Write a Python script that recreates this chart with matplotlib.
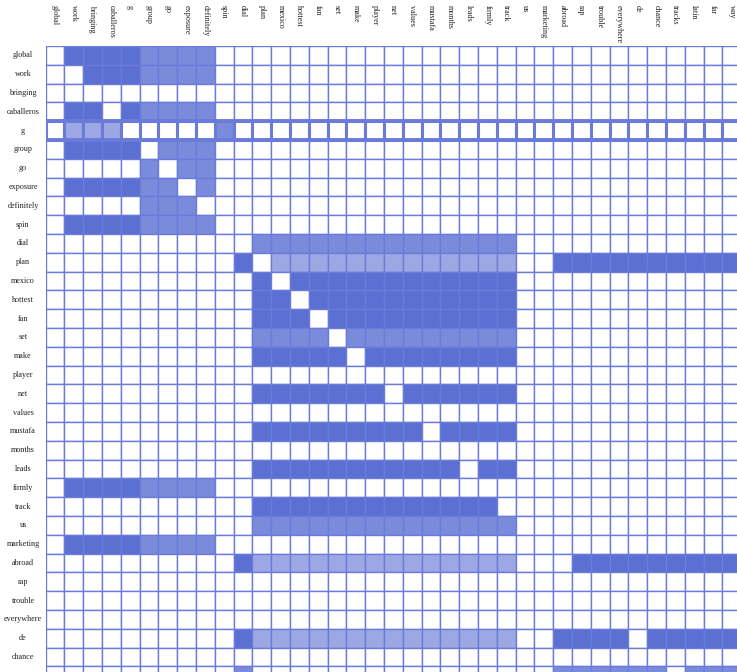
import matplotlib
matplotlib.use("Agg")
import matplotlib.pyplot as plt
from matplotlib.patches import Rectangle

# Words along both axes (matrix is cropped by the figure on the right and bottom)
col_words = ["global", "work", "bringing", "caballeros", "g", "group", "go", "exposure",
             "definitely", "spin", "dial", "plan", "mexico", "hottest", "fan", "set", "make",
             "player", "net", "values", "mustafa", "months", "leads", "firmly", "track", "us",
             "marketing", "abroad", "rap", "trouble", "everywhere", "de", "chance", "tracks",
             "latin", "far", "way"]
row_words = col_words[:34]

# cell level per row: 0 empty, 1 light, 2 medium, 3 dark
levels = [
    "0" + "3333" + "2222" + "0" * 28,                               # global
    "00" + "333" + "2222" + "0" * 28,                               # work
    "0" * 37,                                                        # bringing
    "0" + "33" + "0" + "3" + "2222" + "0" * 28,                     # caballeros
    "0" + "111" + "0" + "0000" + "2" + "0" * 27,                    # g
    "0" + "3333" + "0" + "222" + "0" * 28,                          # group
    "00000" + "2" + "0" + "22" + "0" * 28,                          # go
    "0" + "3333" + "22" + "0" + "2" + "0" * 28,                     # exposure
    "00000" + "222" + "0" + "0" * 28,                               # definitely
    "0" + "3333" + "2222" + "0" * 28,                               # spin
    "0" * 11 + "2" * 14 + "0" * 12,                                  # dial
    "0" * 10 + "3" + "0" + "1" * 13 + "00" + "3" * 10,              # plan
    "0" * 11 + "3" + "0" + "3" * 12 + "0" * 12,                     # mexico
    "0" * 11 + "33" + "0" + "3" * 11 + "0" * 12,                    # hottest
    "0" * 11 + "333" + "0" + "3" * 10 + "0" * 12,                   # fan
    "0" * 11 + "2222" + "0" + "2" * 9 + "0" * 12,                   # set
    "0" * 11 + "3" * 5 + "0" + "3" * 8 + "0" * 12,                  # make
    "0" * 37,                                                        # player
    "0" * 11 + "3" * 7 + "0" + "3" * 6 + "0" * 12,                  # net
    "0" * 37,                                                        # values
    "0" * 11 + "3" * 9 + "0" + "3" * 4 + "0" * 12,                  # mustafa
    "0" * 37,                                                        # months
    "0" * 11 + "3" * 11 + "0" + "33" + "0" * 12,                    # leads
    "0" + "3333" + "2222" + "0" * 28,                               # firmly
    "0" * 11 + "3" * 13 + "0" * 13,                                  # track
    "0" * 11 + "2" * 14 + "0" * 12,                                  # us
    "0" + "3333" + "2222" + "0" * 28,                               # marketing
    "0" * 10 + "3" + "1" * 14 + "000" + "3" * 9,                    # abroad
    "0" * 37,                                                        # rap
    "0" * 37,                                                        # trouble
    "0" * 37,                                                        # everywhere
    "0" * 10 + "3" + "1" * 14 + "00" + "3333" + "0" + "3" * 5,      # de
    "0" * 37,                                                        # chance
    "0" * 10 + "2" + "0" * 16 + "2" * 6 + "0" + "222",              # tracks
]
highlight_row = "g"

level_colors = {"0": "#ffffff", "1": "#9ca8e4", "2": "#7b8bdc", "3": "#5c70d4"}
edge = "#6a7bd9"

W, H = 737, 672
cell = 18.8
x0, y0 = 45.5, 46  # top-left of grid in pixels

fig = plt.figure(figsize=(W / 100, H / 100), dpi=100)
ax = fig.add_axes([x0 / W, 0, 1 - x0 / W, (H - y0) / H])
ax.set_xlim(0, (W - x0) / cell)
ax.set_ylim((H - y0) / cell, 0)
ax.axis("off")

font = dict(family=["Liberation Serif", "DejaVu Serif"], fontsize=5.9, color="#222222")

for i, row in enumerate(levels):
    hl = row_words[i] == highlight_row
    for j, lv in enumerate(row):
        ax.add_patch(Rectangle((j, i), 1, 1, facecolor=level_colors[lv],
                               edgecolor=edge, linewidth=2.2 if hl else 1.0,
                               zorder=3 if hl else 1))
    if hl:
        ax.add_patch(Rectangle((0, i), len(row), 1, fill=False, edgecolor=edge,
                               linewidth=2.8, zorder=4))

for i, w in enumerate(row_words):
    ax.text(-(x0 - 23) / cell, i + 0.5, w, ha="center", va="center", clip_on=False, **font)

for j, w in enumerate(col_words):
    ax.text(j + 0.5, -(y0 - 5) / cell, w, rotation=-90, ha="center", va="top",
            clip_on=False, **font)

fig.savefig("out.png", dpi=100)
